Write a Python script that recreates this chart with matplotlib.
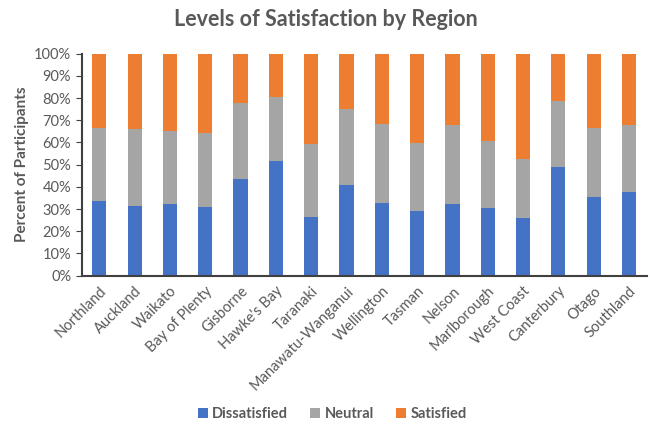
import numpy as np
import matplotlib
matplotlib.use('Agg')
import matplotlib.pyplot as plt
from matplotlib.ticker import PercentFormatter

plt.rcParams['font.family'] = ['Lato', 'DejaVu Sans']

regions = ['Northland', 'Auckland', 'Waikato', 'Bay of Plenty', 'Gisborne',
           "Hawke's Bay", 'Taranaki', 'Manawatu-Wanganui', 'Wellington', 'Tasman',
           'Nelson', 'Marlborough', 'West Coast', 'Canterbury', 'Otago', 'Southland']
# percent of participants
dissatisfied = [33.5, 31.5, 32.1, 31.1, 43.5, 51.7, 26.3, 40.7,
                32.9, 29.1, 32.3, 30.3, 25.8, 48.9, 35.3, 37.8]
neutral = [32.9, 34.4, 33.1, 33.0, 34.4, 28.9, 33.0, 34.2,
           35.6, 30.7, 35.6, 30.4, 26.8, 29.8, 31.4, 30.1]
satisfied = [100 - d - n for d, n in zip(dissatisfied, neutral)]

blue = '#4472C4'
grey = '#A5A5A5'
orange = '#ED7D31'
txt = '#595959'

fig = plt.figure(figsize=(6.51, 4.28), dpi=100)
ax = fig.add_axes([0.1254, 0.356, 0.868, 0.5185])

x = np.arange(len(regions))
w = 0.4
d = np.array(dissatisfied)
n = np.array(neutral)
s = np.array(satisfied)
ax.bar(x, d, w, color=blue, label='Dissatisfied')
ax.bar(x, n, w, bottom=d, color=grey, label='Neutral')
ax.bar(x, s, w, bottom=d + n, color=orange, label='Satisfied')

ax.set_xlim(-0.5, len(regions) - 0.5)
ax.set_ylim(0, 100)
ax.set_yticks(np.arange(0, 101, 10))
ax.yaxis.set_major_formatter(PercentFormatter(decimals=0))
ax.set_xticks(x)
ax.set_xticklabels(regions, rotation=45, ha='right', rotation_mode='anchor',
                   fontsize=10.5, color=txt)
ax.tick_params(axis='x', length=0, pad=6)
ax.tick_params(axis='y', labelsize=10.5, labelcolor=txt, length=4, color='#404040')

for sp in ['top', 'right']:
    ax.spines[sp].set_visible(False)
ax.spines['left'].set_color('#404040')
ax.spines['left'].set_linewidth(1.5)
ax.spines['bottom'].set_color('#404040')
ax.spines['bottom'].set_linewidth(1.5)

ax.set_ylabel('Percent of Participants', fontsize=11, fontweight='bold', color=txt)
fig.suptitle('Levels of Satisfaction by Region', x=0.5, y=0.98, fontsize=15.5,
             fontweight='bold', color=txt)

fig.legend(loc='lower center', bbox_to_anchor=(0.51, -0.015), ncol=3, frameon=False,
           prop={'size': 10.5, 'weight': 'bold'}, handlelength=0.7, handleheight=0.7,
           handletextpad=0.3, columnspacing=1.5, labelcolor=txt)

fig.savefig('out.png', dpi=100)
